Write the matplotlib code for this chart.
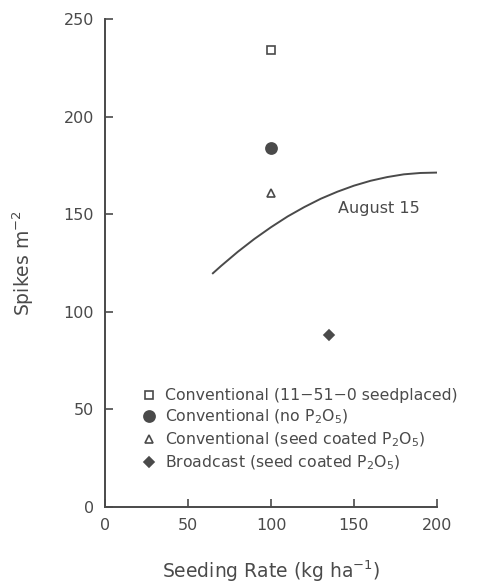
import matplotlib.pyplot as plt

plt.rcParams['font.family'] = ['DejaVu Sans']
ink = '#4a4a4a'

# fitted response curve
curve_x = [65, 70, 80, 90, 100, 110, 120, 130, 140, 150, 160, 170, 180, 190, 200]
curve_y = [119.8, 123.6, 130.8, 137.4, 143.4, 148.9, 153.7, 158.0, 161.6, 164.7,
           167.2, 169.1, 170.5, 171.2, 171.4]

# treatment means
labels = ['Conventional (11\u221251\u22120 seedplaced)',
          'Conventional (no P$_2$O$_5$)',
          'Conventional (seed coated P$_2$O$_5$)',
          'Broadcast (seed coated P$_2$O$_5$)']
pt_x = [100, 100, 100, 135]
pt_y = [234, 184, 161, 88]
markers = ['s', 'o', '^', 'D']
filled = [False, True, False, True]
sizes = [6, 8, 6, 5.5]

fig = plt.figure(figsize=(5, 5.83), dpi=100)
ax = fig.add_axes([0.21, 0.1304, 0.664, 0.8366])

ax.plot(curve_x, curve_y, color=ink, lw=1.4)
ax.text(140.5, 153, 'August 15', color=ink, fontsize=11.5, va='center')

for x, y, m, f, s, lab in zip(pt_x, pt_y, markers, filled, sizes, labels):
    ax.plot(x, y, linestyle='none', marker=m, ms=s, color=ink,
            mfc=ink if f else 'white', mec=ink, mew=1.2, label=lab)

leg = ax.legend(loc='lower left', bbox_to_anchor=(0.095, 0.058), frameon=False,
                fontsize=11.3, handlelength=0.8, handletextpad=0.6,
                labelspacing=0.3, borderaxespad=0)
for t in leg.get_texts():
    t.set_color(ink)

ax.set_xlim(0, 200)
ax.set_ylim(0, 250)
ax.set_xticks([0, 50, 100, 150, 200])
ax.set_yticks([0, 50, 100, 150, 200, 250])
ax.spines['top'].set_visible(False)
ax.spines['right'].set_visible(False)
for s in ['left', 'bottom']:
    ax.spines[s].set_color(ink)
    ax.spines[s].set_linewidth(1.4)
ax.tick_params(direction='in', length=6, width=1.2, colors=ink,
               labelsize=11.5, pad=8)

ax.set_xlabel('Seeding Rate (kg ha$^{-1}$)', fontsize=13.5, color=ink, labelpad=18)
ax.set_ylabel('Spikes m$^{-2}$', fontsize=13.5, color=ink, labelpad=20)

fig.savefig('out.png', dpi=100)
